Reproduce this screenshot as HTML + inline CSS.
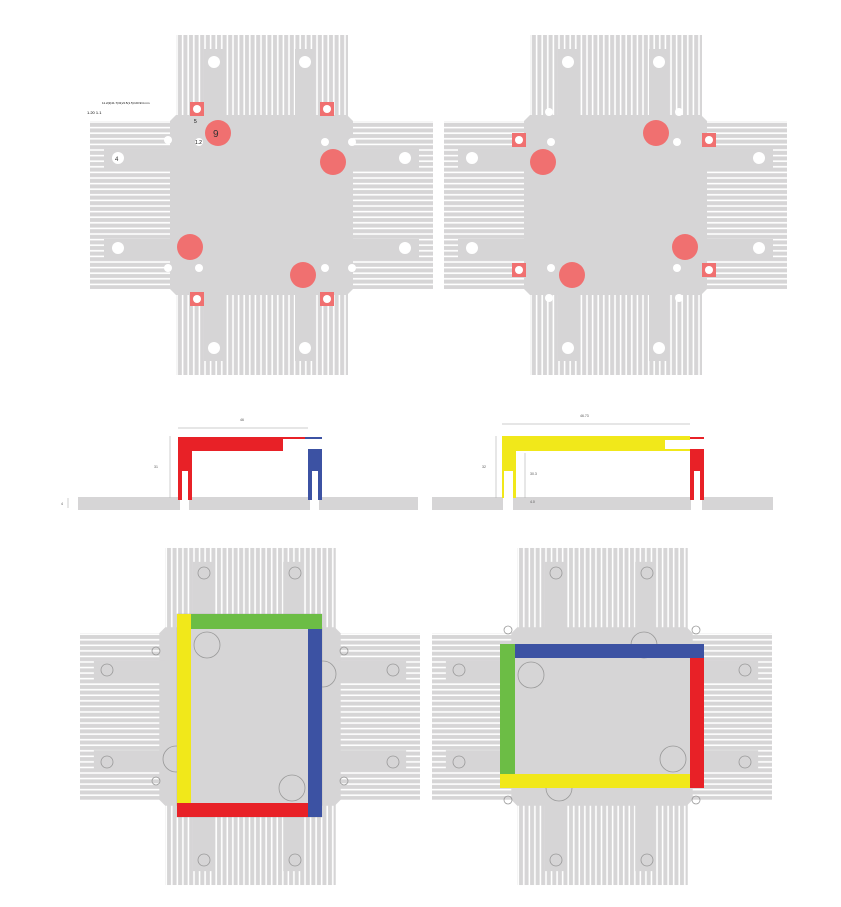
<!DOCTYPE html>
<html><head><meta charset="utf-8"><style>html,body{margin:0;padding:0;background:#fff}svg{display:block}text{font-family:"Liberation Sans",sans-serif}</style></head><body>
<svg width="841" height="907" viewBox="0 0 841 907" xmlns="http://www.w3.org/2000/svg">
<defs>
<pattern id="vf" patternUnits="userSpaceOnUse" width="5.6" height="10"><rect width="5.6" height="10" fill="#d6d5d6"/><rect x="2.2" width="1.6" height="10" fill="#fff"/></pattern>
<pattern id="hf" patternUnits="userSpaceOnUse" width="10" height="5.6"><rect width="10" height="5.6" fill="#d6d5d6"/><rect y="2.2" width="10" height="1.6" fill="#fff"/></pattern>
<symbol id="cross" viewBox="0 0 343 340" width="343" height="340">
<rect x="86" y="0" width="172" height="86" fill="url(#vf)"/>
<rect x="86" y="254" width="172" height="86" fill="url(#vf)"/>
<rect x="0" y="86" width="86" height="168" fill="url(#hf)"/>
<rect x="257" y="86" width="86" height="168" fill="url(#hf)"/>
<polygon points="86,80 257,80 263,86 263,254 257,260 86,260 80,254 80,86" fill="#d6d5d6"/>
<rect x="114" y="14" width="20" height="72" fill="#d6d5d6"/>
<rect x="205" y="14" width="20" height="72" fill="#d6d5d6"/>
<rect x="114" y="254" width="20" height="72" fill="#d6d5d6"/>
<rect x="205" y="254" width="20" height="72" fill="#d6d5d6"/>
<rect x="14" y="114" width="72" height="20" fill="#d6d5d6"/>
<rect x="14" y="204" width="72" height="20" fill="#d6d5d6"/>
<rect x="257" y="114" width="72" height="20" fill="#d6d5d6"/>
<rect x="257" y="204" width="72" height="20" fill="#d6d5d6"/>
</symbol>
</defs>

<use href="#cross" x="90" y="35"/>
<use href="#cross" x="444" y="35"/>
<g fill="#fff">
<circle cx="214" cy="62" r="6"/><circle cx="305" cy="62" r="6"/><circle cx="214" cy="348" r="6"/><circle cx="305" cy="348" r="6"/>
<circle cx="118" cy="158" r="6"/><circle cx="118" cy="248" r="6"/><circle cx="405" cy="158" r="6"/><circle cx="405" cy="248" r="6"/>
<circle cx="568" cy="62" r="6"/><circle cx="659" cy="62" r="6"/><circle cx="568" cy="348" r="6"/><circle cx="659" cy="348" r="6"/>
<circle cx="472" cy="158" r="6"/><circle cx="472" cy="248" r="6"/><circle cx="759" cy="158" r="6"/><circle cx="759" cy="248" r="6"/>
<circle cx="168" cy="140" r="4"/><circle cx="199" cy="142" r="4"/><circle cx="325" cy="142" r="4"/><circle cx="352" cy="142" r="4"/>
<circle cx="168" cy="268" r="4"/><circle cx="199" cy="268" r="4"/><circle cx="325" cy="268" r="4"/><circle cx="352" cy="268" r="4"/>
<circle cx="522" cy="142" r="4"/><circle cx="551" cy="142" r="4"/><circle cx="677" cy="142" r="4"/><circle cx="706" cy="142" r="4"/>
<circle cx="522" cy="268" r="4"/><circle cx="551" cy="268" r="4"/><circle cx="677" cy="268" r="4"/><circle cx="706" cy="268" r="4"/>
<circle cx="549" cy="298" r="4"/><circle cx="679" cy="298" r="4"/><circle cx="549" cy="112" r="4"/><circle cx="679" cy="112" r="4"/>
</g>
<g fill="#f07070">
<circle cx="218" cy="133" r="13"/><circle cx="333" cy="162" r="13"/><circle cx="190" cy="247" r="13"/><circle cx="303" cy="275" r="13"/>
<circle cx="543" cy="162" r="13"/><circle cx="656" cy="133" r="13"/><circle cx="685" cy="247" r="13"/><circle cx="572" cy="275" r="13"/>
<rect x="190" y="102" width="14" height="14"/><rect x="320" y="102" width="14" height="14"/><rect x="190" y="292" width="14" height="14"/><rect x="320" y="292" width="14" height="14"/>
<rect x="512" y="133" width="14" height="14"/><rect x="702" y="133" width="14" height="14"/><rect x="512" y="263" width="14" height="14"/><rect x="702" y="263" width="14" height="14"/>
</g>
<g fill="#fff">
<circle cx="197" cy="109" r="4"/><circle cx="327" cy="109" r="4"/><circle cx="197" cy="299" r="4"/><circle cx="327" cy="299" r="4"/>
<circle cx="519" cy="140" r="4"/><circle cx="709" cy="140" r="4"/><circle cx="519" cy="270" r="4"/><circle cx="709" cy="270" r="4"/>
</g>
<text x="213" y="137" font-size="10" fill="#333">9</text>
<text x="115" y="161" font-size="6" fill="#333">4</text>
<text x="102" y="104" font-size="3">11.2(2)41.7(31)/4.5(1.5)=20.9/4 mm</text>
<text x="87" y="114" font-size="4">1.20  1.1</text>
<text x="194" y="123" font-size="5">5</text>
<text x="195" y="144" font-size="5">1.2</text>

<g fill="#d6d5d6">
<rect x="78" y="497" width="102" height="13"/><rect x="189" y="497" width="121" height="13"/><rect x="319" y="497" width="99" height="13"/>
<rect x="432" y="497" width="71" height="13"/><rect x="513" y="497" width="178" height="13"/><rect x="702" y="497" width="71" height="13"/>
</g>
<g stroke="#bbb" stroke-width="0.7">
<line x1="178" y1="428" x2="308" y2="428"/><line x1="170" y1="436" x2="170" y2="498"/>
<line x1="502" y1="424" x2="690" y2="424"/><line x1="496" y1="436" x2="496" y2="498"/><line x1="525" y1="453" x2="525" y2="498"/>
<line x1="68" y1="498" x2="68" y2="508"/>
</g>
<text x="240" y="421" font-size="3.5" fill="#555">46</text>
<text x="580" y="417" font-size="3.5" fill="#555">46.73</text>
<text x="154" y="468" font-size="3.5" fill="#555">31</text>
<text x="482" y="468" font-size="3.5" fill="#555">32</text>
<text x="530" y="475" font-size="3.5" fill="#555">30.3</text>
<text x="530" y="503" font-size="3.5" fill="#555">4.0</text>
<text x="61" y="505" font-size="3.5" fill="#555">4</text>
<rect x="178" y="437" width="105" height="14" fill="#e82127"/>
<rect x="178" y="437" width="14" height="63" fill="#e82127"/>
<rect x="182" y="471" width="6" height="40" fill="#fff"/>
<rect x="283" y="437" width="25" height="2" fill="#e82127"/>
<rect x="305" y="437" width="17" height="2" fill="#3c52a3"/>
<rect x="308" y="449" width="14" height="51" fill="#3c52a3"/>
<rect x="312" y="471" width="6" height="40" fill="#fff"/>
<rect x="502" y="436" width="163" height="15" fill="#f1e81a"/>
<rect x="665" y="436" width="25" height="4" fill="#f1e81a"/>
<rect x="665" y="449" width="25" height="2" fill="#f1e81a"/>
<rect x="502" y="436" width="14" height="62" fill="#f1e81a"/>
<rect x="504" y="471" width="9" height="40" fill="#fff"/>
<rect x="690" y="437" width="14" height="2" fill="#e82127"/>
<rect x="690" y="449" width="14" height="51" fill="#e82127"/>
<rect x="694" y="471" width="6" height="40" fill="#fff"/>

<use href="#cross" x="80" y="546" width="340" height="341"/>
<use href="#cross" x="432" y="546" width="340" height="341"/>
<g fill="none" stroke="#999" stroke-width="0.8">
<circle cx="204" cy="573" r="6"/><circle cx="295" cy="573" r="6"/><circle cx="204" cy="860" r="6"/><circle cx="295" cy="860" r="6"/>
<circle cx="107" cy="670" r="6"/><circle cx="107" cy="762" r="6"/><circle cx="393" cy="670" r="6"/><circle cx="393" cy="762" r="6"/>
<circle cx="156" cy="651" r="4"/><circle cx="156" cy="781" r="4"/><circle cx="344" cy="651" r="4"/><circle cx="344" cy="781" r="4"/>
<circle cx="207" cy="645" r="13"/><circle cx="292" cy="788" r="13"/><circle cx="176" cy="759" r="13"/><circle cx="323" cy="674" r="13"/>
<circle cx="556" cy="573" r="6"/><circle cx="647" cy="573" r="6"/><circle cx="556" cy="860" r="6"/><circle cx="647" cy="860" r="6"/>
<circle cx="459" cy="670" r="6"/><circle cx="459" cy="762" r="6"/><circle cx="745" cy="670" r="6"/><circle cx="745" cy="762" r="6"/>
<circle cx="508" cy="630" r="4"/><circle cx="508" cy="800" r="4"/><circle cx="696" cy="630" r="4"/><circle cx="696" cy="800" r="4"/>
<circle cx="531" cy="675" r="13"/><circle cx="644" cy="645" r="13"/><circle cx="673" cy="759" r="13"/><circle cx="559" cy="788" r="13"/>
</g>
<rect x="177" y="614" width="145" height="203" fill="none" stroke="#aaa" stroke-width="0.5"/>
<rect x="177" y="614" width="14" height="203" fill="#f1e81a"/>
<rect x="191" y="614" width="131" height="15" fill="#6cbd45"/>
<rect x="308" y="629" width="14" height="188" fill="#3c52a3"/>
<rect x="177" y="803" width="131" height="14" fill="#e82127"/>
<rect x="500" y="644" width="204" height="14" fill="#3c52a3"/>
<rect x="500" y="644" width="15" height="144" fill="#6cbd45"/>
<rect x="690" y="658" width="14" height="130" fill="#e82127"/>
<rect x="500" y="774" width="190" height="14" fill="#f1e81a"/>
</svg>
</body></html>
